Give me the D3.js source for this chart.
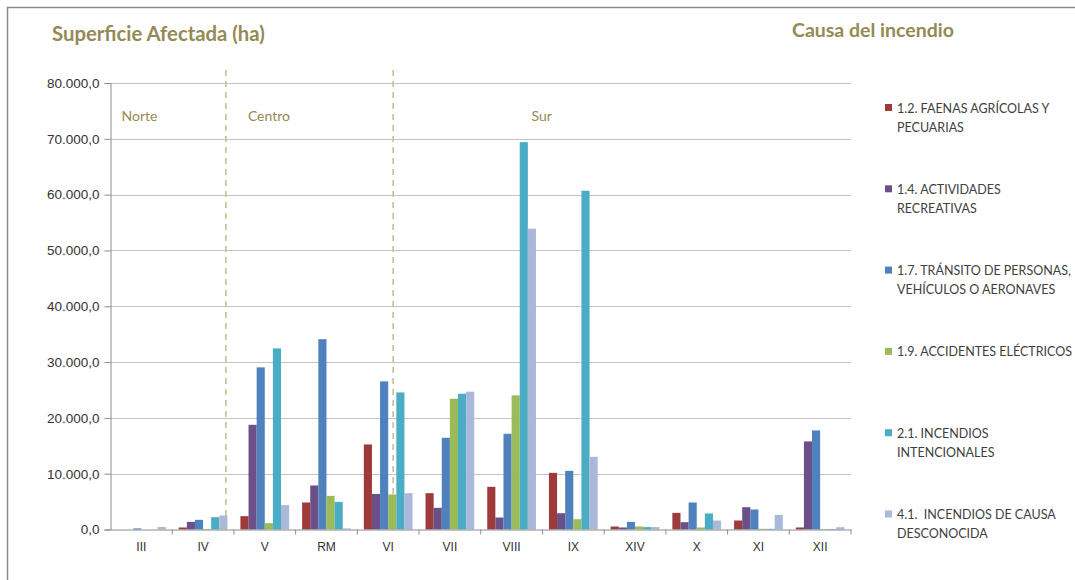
<!DOCTYPE html>
<html>
<head>
<meta charset="utf-8">
<script src="https://cdn.jsdelivr.net/npm/d3@7/dist/d3.min.js"></script>
<style>
  body { margin: 0; padding: 0; background: #fff; }
  svg { display: block; font-family: Lato, "Open Sans", sans-serif; }
</style>
</head>
<body>
<script>
// regiones (eje x)
var regiones = ["III", "IV", "V", "RM", "VI", "VII", "VIII", "IX", "XIV", "X", "XI", "XII"];
// causas (series)
var causas = [
  "1.2. FAENAS AGRÍCOLAS Y|PECUARIAS",
  "1.4. ACTIVIDADES|RECREATIVAS",
  "1.7. TRÁNSITO DE PERSONAS,|VEHÍCULOS O AERONAVES",
  "1.9. ACCIDENTES ELÉCTRICOS",
  "2.1. INCENDIOS|INTENCIONALES",
  "4.1.  INCENDIOS DE CAUSA|DESCONOCIDA"
];
// superficie afectada (ha) por causa, en el orden de regiones
var faenas      = [0, 360, 2390, 4840, 15240, 6510, 7650, 10150, 540, 2980, 1610, 360];
var recreativas = [0, 1360, 18760, 7890, 6380, 3880, 2150, 2920, 360, 1310, 4000, 15780];
var transito    = [200, 1730, 29050, 34100, 26540, 16440, 17150, 10510, 1360, 4840, 3590, 17750];
var electricos  = [0, 100, 1130, 6030, 6280, 23430, 24030, 1850, 540, 360, 120, 100];
var intencional = [0, 2200, 32450, 4950, 24560, 24330, 69400, 60700, 430, 2870, 120, 100];
var desconocida = [450, 2500, 4360, 200, 6510, 24690, 53900, 13020, 430, 1610, 2620, 410];
var yTicks = [0, 10000, 20000, 30000, 40000, 50000, 60000, 70000, 80000];
var zonas = ["Norte", "Centro", "Sur"];

var series = [faenas, recreativas, transito, electricos, intencional, desconocida];
var colores = ["#9E3A39", "#6A4F88", "#4F81BD", "#9BBB59", "#4BACC6", "#AAB9D9"];

var W = 1075, H = 580;
var svg = d3.select("body").append("svg").attr("width", W).attr("height", H);

// marco
svg.append("path").attr("d", "M7.5," + H + "V7.5H" + W)
  .attr("fill", "none").attr("stroke", "#8c8c8c").attr("stroke-width", 1.5);

var pLeft = 110.5, pRight = 851, pTop = 83, pBottom = 529.5;

var x0 = d3.scaleBand().domain(regiones).range([pLeft, pRight]);
var x1 = d3.scaleBand().domain(d3.range(series.length)).range([0, x0.bandwidth()]).paddingOuter(0.8);
var y = d3.scaleLinear().domain([0, 80000]).range([pBottom, pTop]);

var loc = d3.formatLocale({decimal: ",", thousands: ".", grouping: [3], currency: ["$", ""]});
var fmt = loc.format(",.1f");

// grilla
svg.append("g").selectAll("line").data(yTicks.slice(1)).enter().append("line")
  .attr("x1", pLeft).attr("x2", pRight)
  .attr("y1", function (d) { return Math.round(y(d)) + 0.5; })
  .attr("y2", function (d) { return Math.round(y(d)) + 0.5; })
  .attr("stroke", "#c3c3c3").attr("stroke-width", 1.2);

// eje y
var yAxis = svg.append("g").attr("transform", "translate(" + pLeft + ",0)")
  .call(d3.axisLeft(y).tickValues(yTicks).tickFormat(fmt).tickSizeOuter(0).tickSize(6).tickPadding(5));
yAxis.select(".domain").attr("stroke", "#8c8c8c");
yAxis.selectAll(".tick line").attr("stroke", "#8c8c8c");
yAxis.selectAll("text").attr("fill", "#333").style("font-size", "13.5px")
  .style("font-family", "'Liberation Sans', Arial, sans-serif");

// lineas divisorias
var divisiones = [x0("IV") + 0.87 * x0.bandwidth(), x0("VI") + 0.58 * x0.bandwidth()];
svg.append("g").selectAll("line").data(divisiones).enter().append("line")
  .attr("x1", function (d) { return d; }).attr("x2", function (d) { return d; })
  .attr("y1", 70).attr("y2", pBottom)
  .attr("stroke", "#C9BF95").attr("stroke-width", 1.6).attr("stroke-dasharray", "6,5");

// barras
var grupos = svg.append("g").selectAll("g").data(series).enter().append("g")
  .attr("fill", function (d, i) { return colores[i]; });
grupos.each(function (vals, s) {
  d3.select(this).selectAll("rect").data(vals).enter().append("rect")
    .attr("x", function (d, i) { return x0(regiones[i]) + x1(s); })
    .attr("y", function (d) { return y(d); })
    .attr("width", x1.bandwidth())
    .attr("height", function (d) { return pBottom - y(d); });
});

// eje x
var xAxis = svg.append("g").attr("transform", "translate(0," + pBottom + ")")
  .call(d3.axisBottom(x0).tickSize(0).tickPadding(13));
xAxis.select(".domain").attr("stroke", "#8c8c8c");
xAxis.selectAll("text").attr("fill", "#333").style("font-size", "12px")
  .style("font-family", "'Liberation Sans', Arial, sans-serif");
svg.append("g").selectAll("line").data(regiones.slice(1).concat(["_fin"])).enter().append("line")
  .attr("x1", function (d) { return d === "_fin" ? pRight : x0(d); })
  .attr("x2", function (d) { return d === "_fin" ? pRight : x0(d); })
  .attr("y1", pBottom).attr("y2", pBottom + 5)
  .attr("stroke", "#8c8c8c");

// zonas
var zonaX = [x0("III") + 11, x0("V") + 14, x0("IX") - 11];
svg.append("g").selectAll("text").data(zonas).enter().append("text")
  .attr("x", function (d, i) { return zonaX[i]; }).attr("y", 121)
  .attr("fill", "#948A54").style("font-size", "14px").text(function (d) { return d; });

// titulos
svg.append("text").attr("x", 52).attr("y", 41).attr("fill", "#948A54")
  .style("font-size", "20.3px").style("font-weight", "bold").text("Superficie Afectada (ha)");
svg.append("text").attr("x", 792).attr("y", 37).attr("fill", "#948A54")
  .style("font-size", "19.5px").style("font-weight", "bold").text("Causa del incendio");

// leyenda
var ley = svg.append("g").selectAll("g").data(causas).enter().append("g")
  .attr("transform", function (d, i) { return "translate(885," + (108 + i * 81.3) + ")"; });
ley.append("rect").attr("x", 0).attr("y", -4).attr("width", 7).attr("height", 7)
  .attr("fill", function (d, i) { return colores[i]; });
ley.each(function (d) {
  var t = d3.select(this).append("text").attr("fill", "#404040")
    .style("font-size", "12.5px").style("white-space", "pre");
  d.split("|").forEach(function (ln, k) {
    t.append("tspan").attr("x", 12).attr("y", 4.5 + k * 19).text(ln);
  });
});
</script>
</body>
</html>
